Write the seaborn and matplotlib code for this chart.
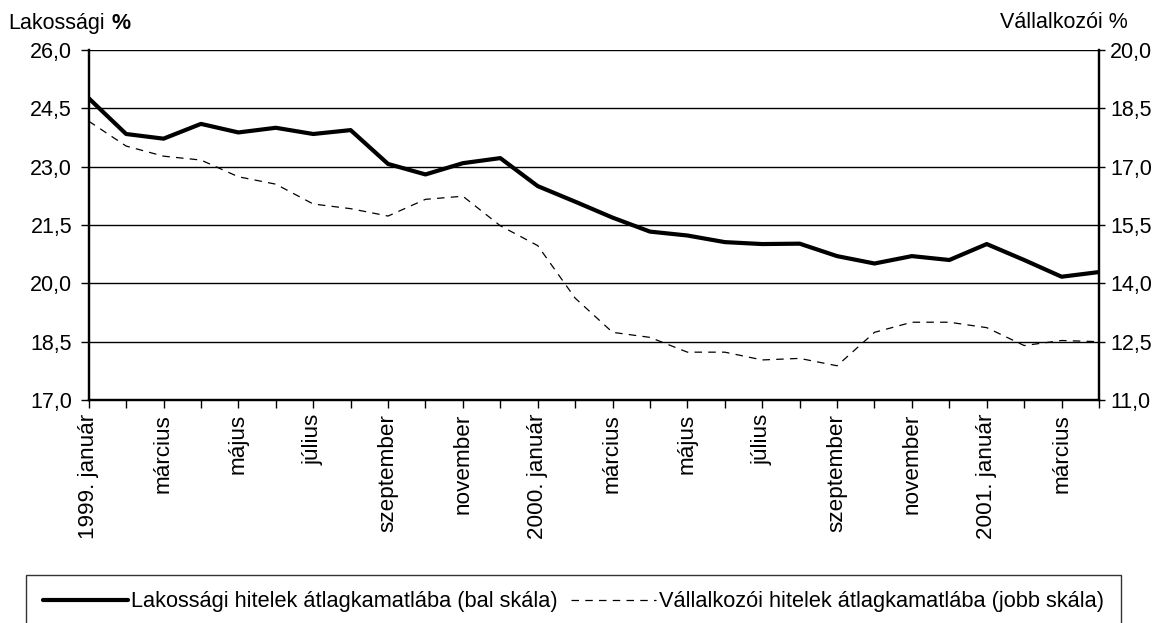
# Lakossági és vállalkozói hitelek átlagkamatlába, 1999-2001
import matplotlib
matplotlib.use('Agg')
import numpy as np
import pandas as pd
import seaborn as sns
import matplotlib.pyplot as plt
from matplotlib.ticker import FuncFormatter

# havi adatok, 1999. január - 2001. április
honapok = ['1999. január', 'február', 'március', 'április', 'május', 'június',
           'július', 'augusztus', 'szeptember', 'október', 'november', 'december',
           '2000. január', 'február', 'március', 'április', 'május', 'június',
           'július', 'augusztus', 'szeptember', 'október', 'november', 'december',
           '2001. január', 'február', 'március', 'április']
lakossagi = [24.76, 23.84, 23.72, 24.10, 23.88, 24.00, 23.84, 23.94, 23.07, 22.80,
             23.09, 23.22, 22.50, 22.10, 21.69, 21.33, 21.23, 21.06, 21.01, 21.02,
             20.70, 20.51, 20.70, 20.60, 21.01, 20.60, 20.17, 20.29]
vallalkozoi = [18.17, 17.53, 17.27, 17.17, 16.74, 16.55, 16.04, 15.92, 15.73, 16.16,
               16.24, 15.48, 14.97, 13.62, 12.74, 12.61, 12.23, 12.23, 12.03, 12.07,
               11.88, 12.74, 13.00, 13.00, 12.86, 12.40, 12.53, 12.50]
bal_ticks = [17.0, 18.5, 20.0, 21.5, 23.0, 24.5, 26.0]
jobb_ticks = [11.0, 12.5, 14.0, 15.5, 17.0, 18.5, 20.0]
nev_lak = 'Lakossági hitelek átlagkamatlába (bal skála)'
nev_val = 'Vállalkozói hitelek átlagkamatlába (jobb skála)'

df = pd.DataFrame({'idx': np.arange(len(honapok)), 'lak': lakossagi, 'val': vallalkozoi})

sns.set_style('white')
plt.rcParams['font.family'] = ['Liberation Sans', 'DejaVu Sans']
plt.rcParams['text.color'] = 'black'

W, H = 1160, 623
fig = plt.figure(figsize=(W / 100, H / 100), dpi=100)
ax = fig.add_axes([88.7 / W, 1 - 400 / H, (1099 - 88.7) / W, 350 / H])
ax2 = ax.twinx()

sns.lineplot(data=df, x='idx', y='lak', ax=ax, color='black', linewidth=3,
             label=nev_lak, legend=False)
sns.lineplot(data=df, x='idx', y='val', ax=ax2, color='black', linewidth=0.9,
             dashes=False, label=nev_val, legend=False)
ax2.lines[0].set_dashes((6, 5))

fmt = FuncFormatter(lambda v, p: f'{v:.1f}'.replace('.', ','))
ax.set_ylim(17, 26)
ax2.set_ylim(11, 20)
ax.set_yticks(bal_ticks)
ax2.set_yticks(jobb_ticks)
ax.yaxis.set_major_formatter(fmt)
ax2.yaxis.set_major_formatter(fmt)
ax.set_xlim(0, len(honapok) - 1)
ax.set_xticks(df['idx'])
ax.set_xticklabels([h if i % 2 == 0 else '' for i, h in enumerate(honapok)],
                   rotation=90, fontsize=16.2)
ax.set_xlabel('')
ax.set_ylabel('')
ax2.set_ylabel('')

ax.yaxis.grid(True, color='black', linewidth=1)
ax.set_axisbelow(True)
for a in (ax, ax2):
    for s in a.spines.values():
        s.set_color('black')
        s.set_linewidth(1.6)
    a.spines['top'].set_visible(False)
ax.tick_params(axis='x', direction='out', length=6, width=1, pad=4, colors='black', bottom=True)
ax.tick_params(axis='y', direction='out', length=6, width=1, pad=6, labelsize=15.5,
               colors='black', left=True)
ax2.tick_params(axis='y', direction='out', length=4, width=1, pad=4, labelsize=15.5,
                colors='black', right=True)

# tengelycímek
fig.text(8 / W, 1 - 29 / H, 'Lakossági', fontsize=15.5, va='baseline', ha='left')
fig.text(112 / W, 1 - 29 / H, '%', fontsize=15.5, va='baseline', ha='left', weight='bold')
fig.text(1128 / W, 1 - 28 / H, 'Vállalkozói %', fontsize=15.5, va='baseline', ha='right')

# jelmagyarázat
handles = ax.get_lines()[:1] + ax2.get_lines()[:1]
leg = fig.legend(handles, [nev_lak, nev_val], loc='upper center',
                 bbox_to_anchor=(573.5 / W, 1 - 575 / H), ncol=2, fontsize=15.7,
                 frameon=True, fancybox=False, edgecolor='black', borderpad=0.75,
                 borderaxespad=0, handlelength=3.9, handletextpad=0.15,
                 columnspacing=0.6)
leg.get_frame().set_linewidth(1)

fig.savefig('out.png', dpi=100, facecolor='white')
